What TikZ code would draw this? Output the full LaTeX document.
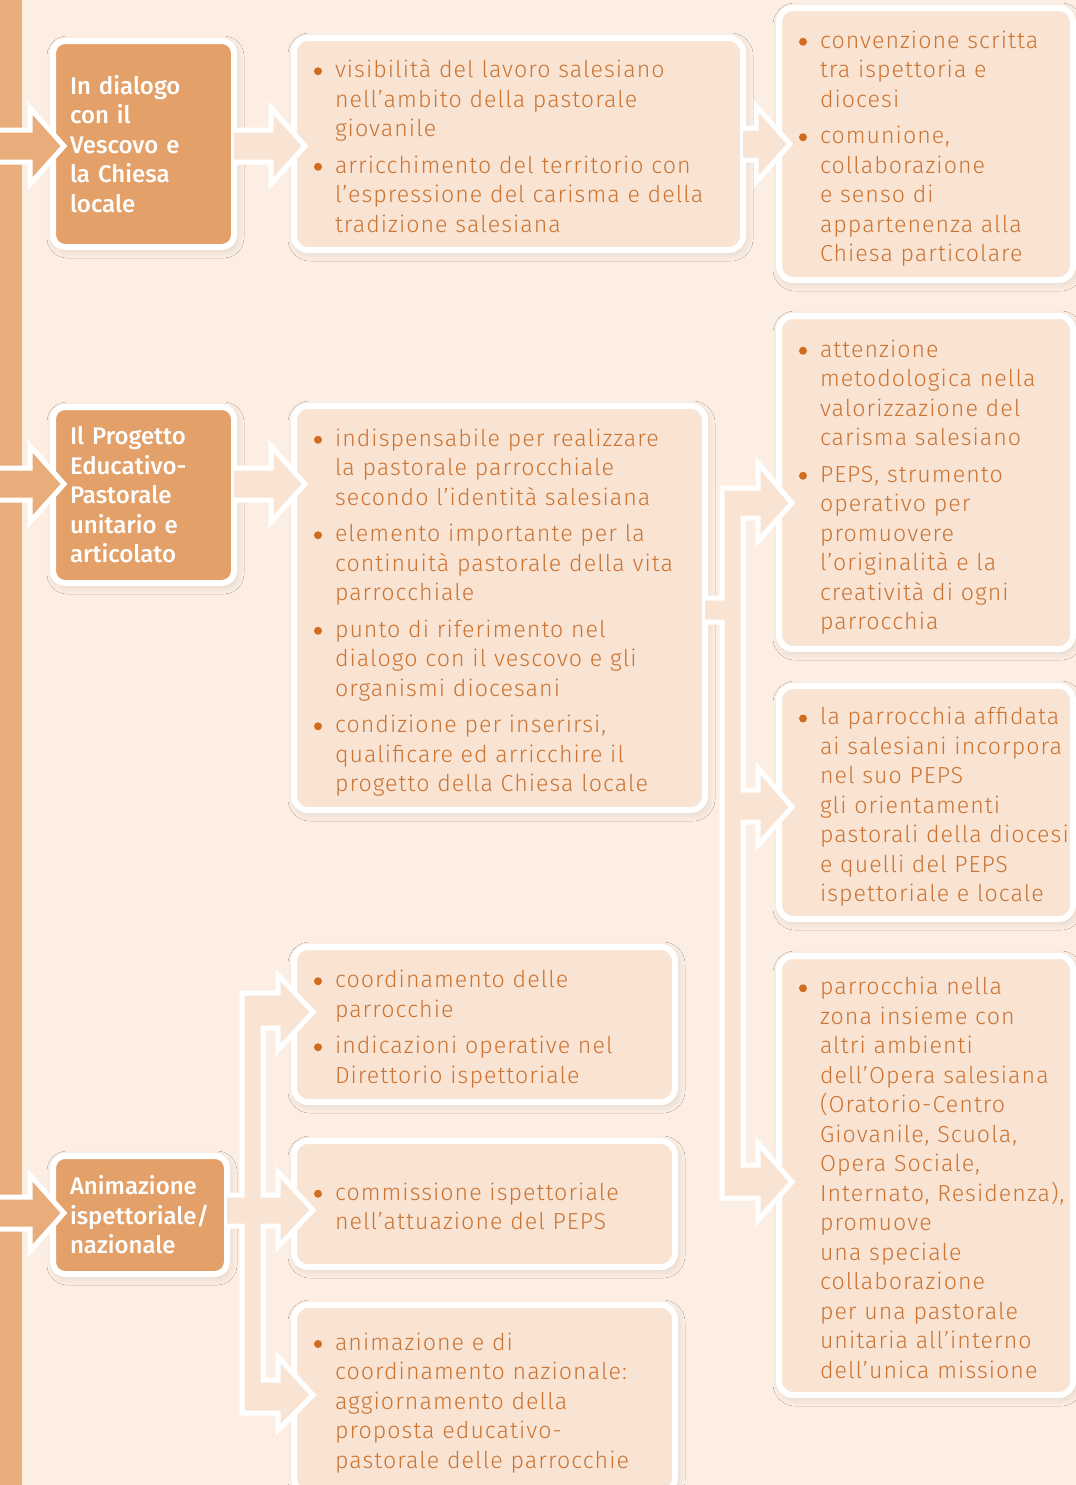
\documentclass[tikz,border=0pt]{standalone}
\usepackage{fontspec}
\IfFontExistsTF{Fira Sans Light}
  {\setmainfont{Fira Sans Light}[LetterSpace=4.5]}
  {\setmainfont{Fira Sans}[LetterSpace=4]}
\IfFontExistsTF{Fira Sans Medium}
  {\newfontfamily\titlefam{Fira Sans Medium}}
  {\newfontfamily\titlefam{Fira Sans}}
\usetikzlibrary{calc,shadows.blur}
\definecolor{paper}{HTML}{FCEEE2}
\definecolor{strip}{HTML}{E8AD7A}
\definecolor{head}{HTML}{E3A068}
\definecolor{leaf}{HTML}{F9E4D3}
\definecolor{ink}{HTML}{CB7433}
\definecolor{dot}{HTML}{D06B1F}
\newcommand{\leaffont}{\fontsize{11.6}{14.75}\selectfont}
\newcommand{\headfont}{\titlefam\fontsize{12}{14.75}\selectfont}
\newcommand{\itm}{\makebox[10.5pt][l]{\raisebox{1.2pt}{\tikz\fill[dot] (0,0) circle (2pt);}}}
\newcommand{\gap}{3.5pt}
\newenvironment{points}{\begin{tabular}{@{}l@{}l@{}}\noalign{\vskip 5pt}}{\end{tabular}}
% block arrow from a point to the west side of a node
\newcommand{\harrow}[3][leaf]{%
  \filldraw[arrowline, fill=#1] let \p1=(#2), \p2=(#3.west) in
    (\x1,\y1+8pt) -- (\x2-11.5pt,\y1+8pt) -- (\x2-11.5pt,\y1+19pt) -- (\x2+5.5pt,\y1)
    -- (\x2-11.5pt,\y1-19pt) -- (\x2-11.5pt,\y1-8pt) -- (\x1,\y1-8pt);}
\tikzset{
  dims/.code 2 args={\pgfmathsetmacro\bw{#1/2}\pgfmathsetmacro\bh{#2/2}\pgfmathsetmacro\tw{#1/2-20}%
    \pgfkeysalso{minimum width=\bw pt, minimum height=\bh pt, text width=\tw pt}},
  hdims/.code 2 args={\pgfmathsetmacro\bw{#1/2}\pgfmathsetmacro\bh{#2/2}\pgfmathsetmacro\tw{#1/2-17}%
    \pgfkeysalso{minimum width=\bw pt, minimum height=\bh pt, text width=\tw pt}},
  boxshadow/.style={blur shadow={shadow xshift=1pt, shadow yshift=-1.5pt, shadow blur radius=4pt, shadow opacity=14}},
  headbox/.style={draw=white, line width=3pt, fill=head, rounded corners=6pt, anchor=north west,
    outer sep=0pt, inner xsep=8.5pt, align=left, text=white, font=\headfont, boxshadow},
  leafbox/.style={draw=white, line width=3pt, fill=leaf, rounded corners=7pt, anchor=north west,
    outer sep=0pt, inner xsep=10pt, align=left, text=ink, font=\leaffont, boxshadow},
  arrowline/.style={draw=white, line width=2.5pt}
}
\begin{document}
\begin{tikzpicture}[x=0.5pt, y=-0.5pt]
\useasboundingbox (0,0) rectangle (1076,1485);
\fill[paper] (0,0) rectangle (1076,1485);
\fill[strip] (0,0) rectangle (22,1485);

% first level
\node[headbox, hdims={181}{206}] (t1) at (53,41) {In dialogo\\con il\\Vescovo e\\la Chiesa\\locale};
\node[headbox, hdims={181}{176}] (t2) at (53,407) {Il Progetto\\Educativo-\\Pastorale\\unitario e\\articolato};
\node[headbox, hdims={174}{118}] (t3) at (53,1156) {Animazione\\ispettoriale/\\nazionale};

% second level
\node[leafbox, dims={449}{212}] (a1) at (294,38) {\begin{points}
\itm & visibilità del lavoro salesiano\\
 & nell'ambito della pastorale\\
 & giovanile\\[\gap]
\itm & arricchimento del territorio con\\
 & l'espressione del carisma e della\\
 & tradizione salesiana
\end{points}};
\node[leafbox, dims={411}{404}] (a2) at (294,406) {\begin{points}
\itm & indispensabile per realizzare\\
 & la pastorale parrocchiale\\
 & secondo l'identità salesiana\\[\gap]
\itm & elemento importante per la\\
 & continuità pastorale della vita\\
 & parrocchiale\\[\gap]
\itm & punto di riferimento nel\\
 & dialogo con il vescovo e gli\\
 & organismi diocesani\\[\gap]
\itm & condizione per inserirsi,\\
 & qualificare ed arricchire il\\
 & progetto della Chiesa locale
\end{points}};
\node[leafbox, dims={381}{155}] (a3) at (294,947) {\begin{points}
\itm & coordinamento delle\\
 & parrocchie\\[\gap]
\itm & indicazioni operative nel\\
 & Direttorio ispettoriale
\end{points}};
\node[leafbox, dims={381}{126}] (a4) at (294,1141) {\begin{points}
\itm & commissione ispettoriale\\
 & nell'attuazione del PEPS
\end{points}};
\node[leafbox, dims={381}{187}] (a5) at (294,1305) {\begin{points}
\itm & animazione e di\\
 & coordinamento nazionale:\\
 & aggiornamento della\\
 & proposta educativo-\\
 & pastorale delle parrocchie
\end{points}};

% third level
\node[leafbox, dims={294}{272}] (b1) at (779,8) {\begin{points}
\itm & convenzione scritta\\
 & tra ispettoria e\\
 & diocesi\\[\gap]
\itm & comunione,\\
 & collaborazione\\
 & e senso di\\
 & appartenenza alla\\
 & Chiesa particolare
\end{points}};
\node[leafbox, dims={294}{333}] (b2) at (779,316) {\begin{points}
\itm & attenzione\\
 & metodologica nella\\
 & valorizzazione del\\
 & carisma salesiano\\[\gap]
\itm & PEPS, strumento\\
 & operativo per\\
 & promuovere\\
 & l'originalità e la\\
 & creatività di ogni\\
 & parrocchia
\end{points}};
\node[leafbox, dims={294}{233}] (b3) at (779,686) {\begin{points}
\itm & la parrocchia affidata\\
 & ai salesiani incorpora\\
 & nel suo PEPS\\
 & gli orientamenti\\
 & pastorali della diocesi\\
 & e quelli del PEPS\\
 & ispettoriale e locale
\end{points}};
\node[leafbox, dims={294}{439}] (b4) at (779,956) {\begin{points}
\itm & parrocchia nella\\
 & zona insieme con\\
 & altri ambienti\\
 & dell'Opera salesiana\\
 & (Oratorio-Centro\\
 & Giovanile, Scuola,\\
 & Opera Sociale,\\
 & Internato, Residenza),\\
 & promuove\\
 & una speciale\\
 & collaborazione\\
 & per una pastorale\\
 & unitaria all'interno\\
 & dell'unica missione
\end{points}};

% arrows
\coordinate (in1) at (-5,146);
\coordinate (in2) at (-5,484);
\coordinate (in3) at (-5,1213);
\harrow[strip]{in1}{t1}
\harrow[strip]{in2}{t2}
\harrow[strip]{in3}{t3}
\harrow{$(t1.east)+(0,2)$}{a1}
\harrow{$(t2.east)+(0,-11)$}{a2}
\harrow{a1.east}{b1}

% fork from a2 to b2, b3, b4
\filldraw[arrowline, fill=leaf, shift={(a2.east)}]
  (0,-10) -- (17,-10) -- (17,-120) -- (53,-120) -- (53,-145) -- (87,-105) -- (53,-67) -- (53,-90)
  -- (38,-90) -- (38,182) -- (53,182) -- (53,160) -- (87,199) -- (53,237) -- (53,214)
  -- (38,214) -- (38,557) -- (53,557) -- (53,535) -- (87,574) -- (53,612) -- (53,590)
  -- (17,590) -- (17,14) -- (0,14);

% fork from t3 to a3, a4, a5
\filldraw[arrowline, fill=leaf, shift={(t3.east)}]
  (0,-20) -- (15,-20) -- (15,-222) -- (51,-222) -- (51,-240) -- (86,-203) -- (51,-165) -- (51,-187)
  -- (36,-187) -- (36,-20) -- (51,-20) -- (51,-43) -- (86,-5) -- (51,32) -- (51,11)
  -- (36,11) -- (36,165) -- (51,165) -- (51,142) -- (86,180) -- (51,215) -- (51,198)
  -- (15,198) -- (15,11) -- (0,11);
\end{tikzpicture}
\end{document}
